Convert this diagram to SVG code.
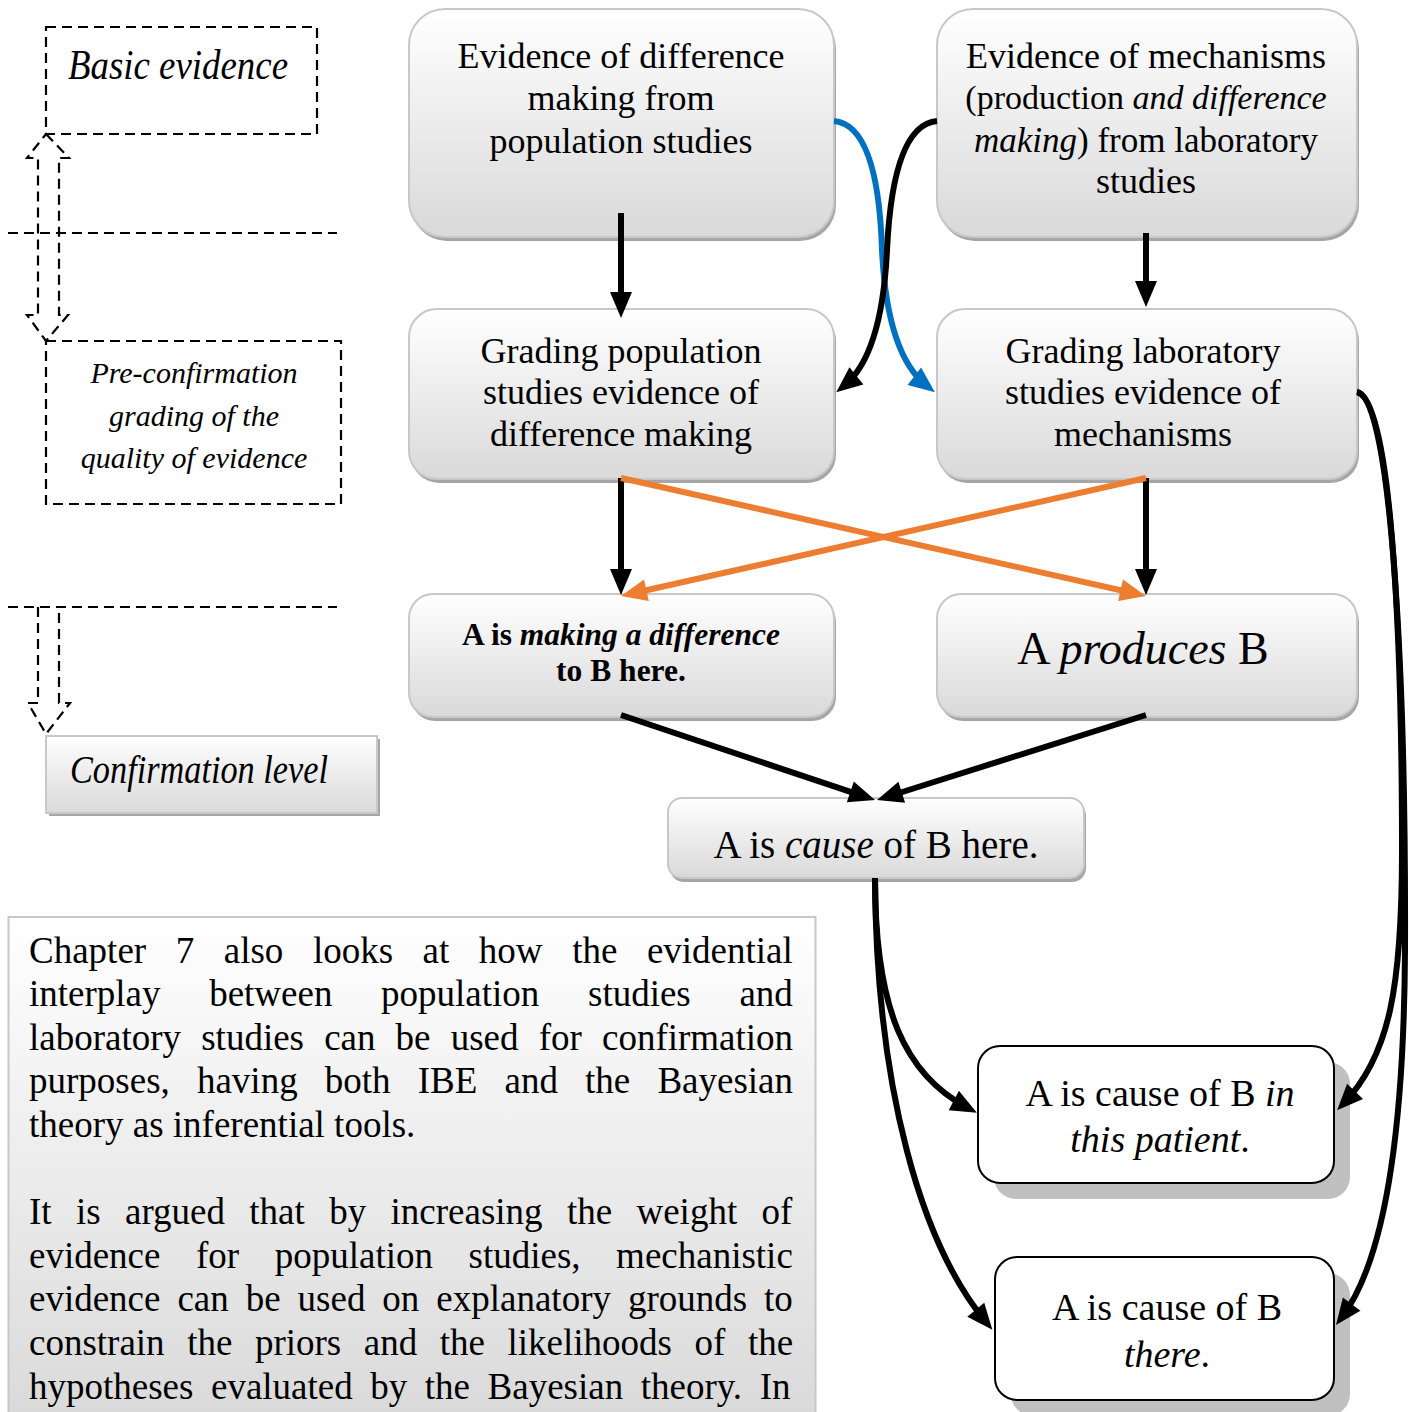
<svg xmlns="http://www.w3.org/2000/svg" width="1409" height="1412" viewBox="0 0 1409 1412">
<defs>
<linearGradient id="gf" x1="0" y1="0" x2="0" y2="1">
<stop offset="0" stop-color="#ffffff"/>
<stop offset="1" stop-color="#d9d9d9"/>
</linearGradient>
<marker id="ab" markerUnits="userSpaceOnUse" markerWidth="26" markerHeight="24" refX="16" refY="12" orient="auto" overflow="visible"><path d="M0,1 L26,12 L0,23 z" fill="#000"/></marker>
<marker id="ao" markerUnits="userSpaceOnUse" markerWidth="26" markerHeight="24" refX="16" refY="12" orient="auto" overflow="visible"><path d="M0,1 L26,12 L0,23 z" fill="#ED7D31"/></marker>
<marker id="al" markerUnits="userSpaceOnUse" markerWidth="26" markerHeight="24" refX="16" refY="12" orient="auto" overflow="visible"><path d="M0,1 L26,12 L0,23 z" fill="#0070C0"/></marker>
</defs>
<style>
text{font-family:'Liberation Serif','Times New Roman',serif;fill:#000}
.t{font-size:36px;text-anchor:middle}
.i{font-style:italic}
.b{font-weight:bold}
.sh{fill:#a6a6a6}
.nd{fill:url(#gf);stroke:#c8c8c8;stroke-width:2}
.wn{fill:#fff;stroke:#000;stroke-width:2}
.ws{fill:#c0c0c0}
.dash{fill:none;stroke:#000;stroke-width:2.2;stroke-dasharray:10 6}
.c{fill:none;stroke:#000;stroke-width:6}
.co{fill:none;stroke:#ED7D31;stroke-width:6}
.cl{fill:none;stroke:#0070C0;stroke-width:6}
.p{font-size:37px}
</style>

<g id="legend">
<rect class="dash" x="46" y="27" width="271" height="107"/>
<text class="i" x="68" y="79" font-size="42" textLength="220" lengthAdjust="spacingAndGlyphs">Basic evidence</text>
<line class="dash" x1="8" y1="233" x2="337" y2="233"/>
<path class="dash" d="M46,134 L69,158 L59,158 L59,315 L68,315 L46,341 L27,315 L38,315 L38,158 L27,158 Z"/>
<rect class="dash" x="46" y="341" width="295" height="163"/>
<text class="i" font-size="30" text-anchor="middle" x="194" y="383">Pre-confirmation</text>
<text class="i" font-size="30" text-anchor="middle" x="194" y="426">grading of the</text>
<text class="i" font-size="30" text-anchor="middle" x="194" y="468">quality of evidence</text>
<line class="dash" x1="8" y1="607" x2="337" y2="607"/>
<path class="dash" d="M38,607 L38,703 L28,703 L46,734 L70,703 L59,703 L59,607"/>
<rect x="49" y="739" width="331" height="77" fill="#a6a6a6"/>
<rect x="46" y="736" width="331" height="77" fill="url(#gf)" stroke="#c8c8c8" stroke-width="2"/>
<text class="i" x="70" y="783" font-size="39" textLength="258" lengthAdjust="spacingAndGlyphs">Confirmation level</text>
</g>

<g id="textbox">
<rect x="8.5" y="917" width="807" height="510" fill="url(#gf)" stroke="#c8c8c8" stroke-width="2"/>
<text class="p" x="29" y="962.5" word-spacing="20.3">Chapter 7 also looks at how the evidential</text>
<text class="p" x="29" y="1006.1" word-spacing="39.4">interplay between population studies and</text>
<text class="p" x="29" y="1049.7" word-spacing="10.9">laboratory studies can be used for confirmation</text>
<text class="p" x="29" y="1093.3" word-spacing="17.9">purposes, having both IBE and the Bayesian</text>
<text class="p" x="29" y="1136.9">theory as inferential tools.</text>
<text class="p" x="29" y="1224.1" word-spacing="15.1">It is argued that by increasing the weight of</text>
<text class="p" x="29" y="1267.7" word-spacing="26.3">evidence for population studies, mechanistic</text>
<text class="p" x="29" y="1311.3" word-spacing="7.7">evidence can be used on explanatory grounds to</text>
<text class="p" x="29" y="1354.9" word-spacing="13.3">constrain the priors and the likelihoods of the</text>
<text class="p" x="29" y="1398.5" word-spacing="8.3">hypotheses evaluated by the Bayesian theory. In</text>
</g>

<g id="n1">
<rect class="sh" x="411" y="13" width="425" height="228" rx="36"/>
<rect class="nd" x="409" y="9" width="425" height="228" rx="36"/>
<text class="t" x="621" y="68">Evidence of difference</text>
<text class="t" x="621" y="110">making from</text>
<text class="t" x="621" y="153">population studies</text>
</g>
<g id="n2">
<rect class="sh" x="939" y="13" width="420" height="228" rx="36"/>
<rect class="nd" x="937" y="9" width="420" height="228" rx="36"/>
<text class="t" x="1146" y="68" font-size="35">Evidence of mechanisms</text>
<text class="t" x="1146" y="109" style="font-size:34px">(production <tspan class="i">and difference</tspan></text>
<text class="t" x="1146" y="152" style="font-size:35px"><tspan class="i">making</tspan>) from laboratory</text>
<text class="t" x="1146" y="193">studies</text>
</g>
<g id="n3">
<rect class="sh" x="411" y="313" width="425" height="170" rx="28"/>
<rect class="nd" x="409" y="309" width="425" height="170" rx="28"/>
<text class="t" x="621" y="363">Grading population</text>
<text class="t" x="621" y="404">studies evidence of</text>
<text class="t" x="621" y="446">difference making</text>
</g>
<g id="n4">
<rect class="sh" x="939" y="313" width="420" height="170" rx="28"/>
<rect class="nd" x="937" y="309" width="420" height="170" rx="28"/>
<text class="t" x="1143" y="363">Grading laboratory</text>
<text class="t" x="1143" y="404">studies evidence of</text>
<text class="t" x="1143" y="446">mechanisms</text>
</g>
<g id="n5">
<rect class="sh" x="411" y="598" width="425" height="123" rx="24"/>
<rect class="nd" x="409" y="594" width="425" height="123" rx="24"/>
<text class="b" font-size="31.5" text-anchor="middle" x="621" y="645">A is <tspan class="i">making a difference</tspan></text>
<text class="b" font-size="31.5" text-anchor="middle" x="621" y="681">to B here.</text>
</g>
<g id="n6">
<rect class="sh" x="939" y="598" width="420" height="123" rx="24"/>
<rect class="nd" x="937" y="594" width="420" height="123" rx="24"/>
<text x="1143" y="664" font-size="46" text-anchor="middle">A <tspan class="i">produces</tspan> B</text>
</g>
<g id="n7">
<rect class="sh" x="670" y="802" width="416" height="80" rx="14"/>
<rect class="nd" x="668" y="798" width="416" height="80" rx="14"/>
<text font-size="39" text-anchor="middle" x="876" y="858">A is <tspan class="i">cause</tspan> of B here.</text>
</g>
<g id="n8">
<rect class="ws" x="994" y="1062" width="356" height="137" rx="22"/>
<rect class="wn" x="978" y="1046" width="356" height="137" rx="22"/>
<text font-size="38" text-anchor="middle" x="1160" y="1106">A is cause of B <tspan class="i">in</tspan></text>
<text font-size="38" text-anchor="middle" x="1160" y="1152"><tspan class="i">this patient</tspan>.</text>
</g>
<g id="n9">
<rect class="ws" x="1011" y="1273" width="339" height="143" rx="22"/>
<rect class="wn" x="995" y="1257" width="339" height="143" rx="22"/>
<text font-size="38" text-anchor="middle" x="1167" y="1320">A is cause of B</text>
<text font-size="38" text-anchor="middle" x="1167" y="1367"><tspan class="i">there</tspan>.</text>
</g>

<g id="connectors">
<line class="c" x1="621" y1="213" x2="621" y2="308" marker-end="url(#ab)"/>
<line class="c" x1="1146" y1="233" x2="1146" y2="297" marker-end="url(#ab)"/>
<line class="c" x1="621" y1="478" x2="621" y2="585" marker-end="url(#ab)"/>
<line class="c" x1="1146" y1="478" x2="1146" y2="585" marker-end="url(#ab)"/>
<line class="co" x1="621" y1="478" x2="1136.2" y2="593.8" marker-end="url(#ao)"/>
<line class="co" x1="1146" y1="478" x2="630.8" y2="593.8" marker-end="url(#ao)"/>
<path class="cl" d="M834,121 Q878,125 882,250 Q887,355 927,386" marker-end="url(#al)"/>
<path class="c" d="M937,121 Q893,125 887,250 Q882,355 844,386" marker-end="url(#ab)"/>
<line class="c" x1="621" y1="715" x2="865.5" y2="796.9" marker-end="url(#ab)"/>
<line class="c" x1="1146" y1="715" x2="886.5" y2="797" marker-end="url(#ab)"/>
<path class="c" d="M875,878 C875,1010 905,1075 968,1108" marker-end="url(#ab)"/>
<path class="c" d="M875,878 C876,1090 922,1245 986,1322" marker-end="url(#ab)"/>
<path class="c" d="M1357,392 C1390,398 1402,620 1402,850 C1402,985 1390,1055 1344,1103" marker-end="url(#ab)"/>
<path class="c" d="M1357,392 C1392,398 1406,680 1405,950 C1404,1130 1385,1260 1342,1317" marker-end="url(#ab)"/>
</g>
</svg>
